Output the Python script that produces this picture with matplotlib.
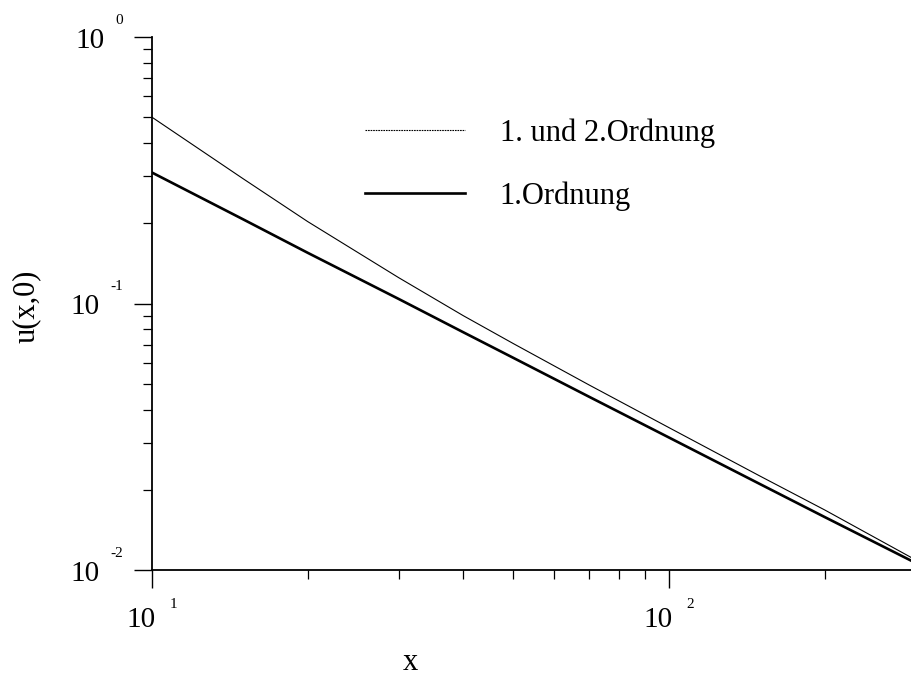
import matplotlib
matplotlib.use("Agg")
import matplotlib.pyplot as plt
from matplotlib.ticker import LogLocator, NullFormatter
from matplotlib.lines import Line2D

plt.rcParams['font.family'] = ['Liberation Serif', 'DejaVu Serif']

# Axial coordinate and decay of u(x,0)
x = [10, 15, 20, 30, 40, 50, 70, 100, 150, 200, 295]
u_first_second = [0.50, 0.294, 0.203, 0.125, 0.090, 0.0707, 0.0495, 0.0342, 0.0225, 0.0168, 0.0111]
u_first = [0.31, 0.207, 0.155, 0.104, 0.078, 0.0625, 0.0447, 0.0314, 0.0210, 0.0158, 0.0108]

x_major = [10, 100]
x_tick_exp = ["1", "2"]
y_major = [1, 0.1, 0.01]
y_tick_exp = ["0", "-1", "-2"]
legend_labels = ["1. und 2.Ordnung", "1.Ordnung"]

W, H = 912, 686
fig = plt.figure(figsize=(W / 100, H / 100), dpi=100)
ax = fig.add_axes([152 / W, 1 - 570 / H, (W - 152) / W, (570 - 37) / H])
ax.set_xscale('log')
ax.set_yscale('log')
ax.set_xlim(10, 295)
ax.set_ylim(0.01, 1)

ax.plot(x, u_first_second, color='black', lw=0.8)
ax.plot(x, u_first, color='black', lw=1.9)

for side in ('top', 'right'):
    ax.spines[side].set_visible(False)
for side in ('left', 'bottom'):
    ax.spines[side].set_linewidth(1.3)

ax.xaxis.set_major_locator(LogLocator(base=10, numticks=10))
ax.yaxis.set_major_locator(LogLocator(base=10, numticks=10))
ax.xaxis.set_minor_locator(LogLocator(base=10, subs=range(2, 10), numticks=20))
ax.yaxis.set_minor_locator(LogLocator(base=10, subs=range(2, 10), numticks=20))
ax.xaxis.set_major_formatter(NullFormatter())
ax.yaxis.set_major_formatter(NullFormatter())
ax.xaxis.set_minor_formatter(NullFormatter())
ax.yaxis.set_minor_formatter(NullFormatter())
ax.tick_params(which='major', direction='out', length=13, width=1.0, color='black')
ax.tick_params(which='minor', direction='out', length=6.5, width=0.9, color='black')

PT = 0.72  # points per pixel at 100 dpi
BASE = 21
SUP = 11

fig.canvas.draw()
r = fig.canvas.get_renderer()

# y tick labels: "10" with a small raised exponent
for val, e in zip(y_major, y_tick_exp):
    sup = ax.annotate(e, xy=(0, val), xycoords=('axes fraction', 'data'),
                      xytext=(-29 * PT, 13 * PT), textcoords='offset points',
                      ha='right', va='baseline', fontsize=SUP)
    bb = sup.get_window_extent(r)
    ax_x0 = ax.get_window_extent(r).x0
    off = bb.x0 - ax_x0 - 11
    ax.annotate("10", xy=(0, val), xycoords=('axes fraction', 'data'),
                xytext=(off * PT, -11 * PT), textcoords='offset points',
                ha='right', va='baseline', fontsize=BASE)

# x tick labels
for val, e in zip(x_major, x_tick_exp):
    t10 = ax.annotate("10", xy=(val, 0), xycoords=('data', 'axes fraction'),
                      xytext=(0, -57 * PT), textcoords='offset points',
                      ha='left', va='baseline', fontsize=BASE)
    sup = ax.annotate(e, xy=(val, 0), xycoords=('data', 'axes fraction'),
                      xytext=(0, -38 * PT), textcoords='offset points',
                      ha='left', va='baseline', fontsize=SUP)
    w10 = t10.get_window_extent(r).width
    ws = sup.get_window_extent(r).width
    gap = 14
    total = w10 + gap + ws
    t10.set_position((-total / 2 * PT, -57 * PT))
    sup.set_position(((-total / 2 + w10 + gap) * PT, -38 * PT))

fig.text(26 / W, 1 - 306 / H, "u(x,0)", rotation=90, ha='center', va='center', fontsize=22)
fig.text(410 / W, 1 - 662 / H, "x", ha='center', va='center', fontsize=22)

handles = [Line2D([], [], color='black', lw=0.8, linestyle=(0, (1.5, 0.8))),
           Line2D([], [], color='black', lw=1.9)]
ax.legend(handles, legend_labels, loc='upper left',
          bbox_to_anchor=(365 / W, 1 - 118 / H), bbox_transform=fig.transFigure,
          frameon=False, fontsize=22, handlelength=3.27, handletextpad=1.14,
          labelspacing=1.1, borderpad=0, borderaxespad=0)

fig.savefig('out.png', dpi=100)
